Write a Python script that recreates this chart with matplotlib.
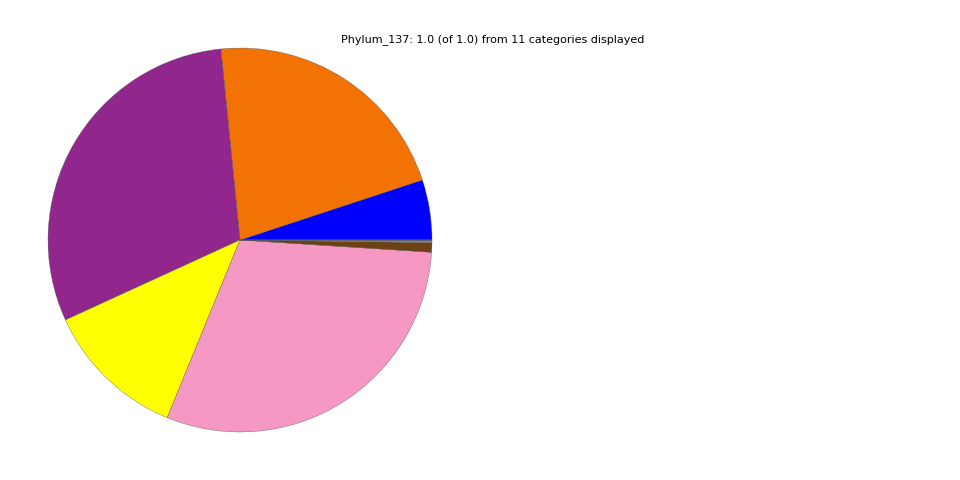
import matplotlib
matplotlib.use("Agg")
import matplotlib.pyplot as plt

categories = ["Proteobacteria", "Firmicutes", "Bacteroidetes", "Actinobacteria",
              "Fusobacteria", "Tenericutes", "Other", "Cyanobacteria",
              "Spirochaetes", "Verrucomicrobia", "TM7"]
values = [0.0506, 0.2153, 0.3025, 0.1197, 0.3017, 0.0080, 0.0022, 0.0, 0.0, 0.0, 0.0]
colors = ["#0000FF", "#F27304", "#91278D", "#FFFF00", "#F598C3", "#6C4214",
          "#808080", "#00FF00", "#FF0000", "#00FFFF", "#000000"]

fig = plt.figure(figsize=(9.6, 4.8), dpi=100)
ax = fig.add_axes([48 / 960, 48 / 480, 384 / 960, 384 / 480])
ax.pie(values, colors=colors, startangle=0, counterclock=True, radius=1,
       wedgeprops=dict(edgecolor="#555555", linewidth=0.25))
ax.set_xlim(-1, 1)
ax.set_ylim(-1, 1)
ax.set_aspect("equal")
ax.axis("off")
fig.text(492.5 / 960, 1 - 40 / 480, "Phylum_137: 1.0 (of 1.0) from 11 categories displayed",
         ha="center", va="center", fontsize=8)
fig.savefig("out.png", dpi=100)
